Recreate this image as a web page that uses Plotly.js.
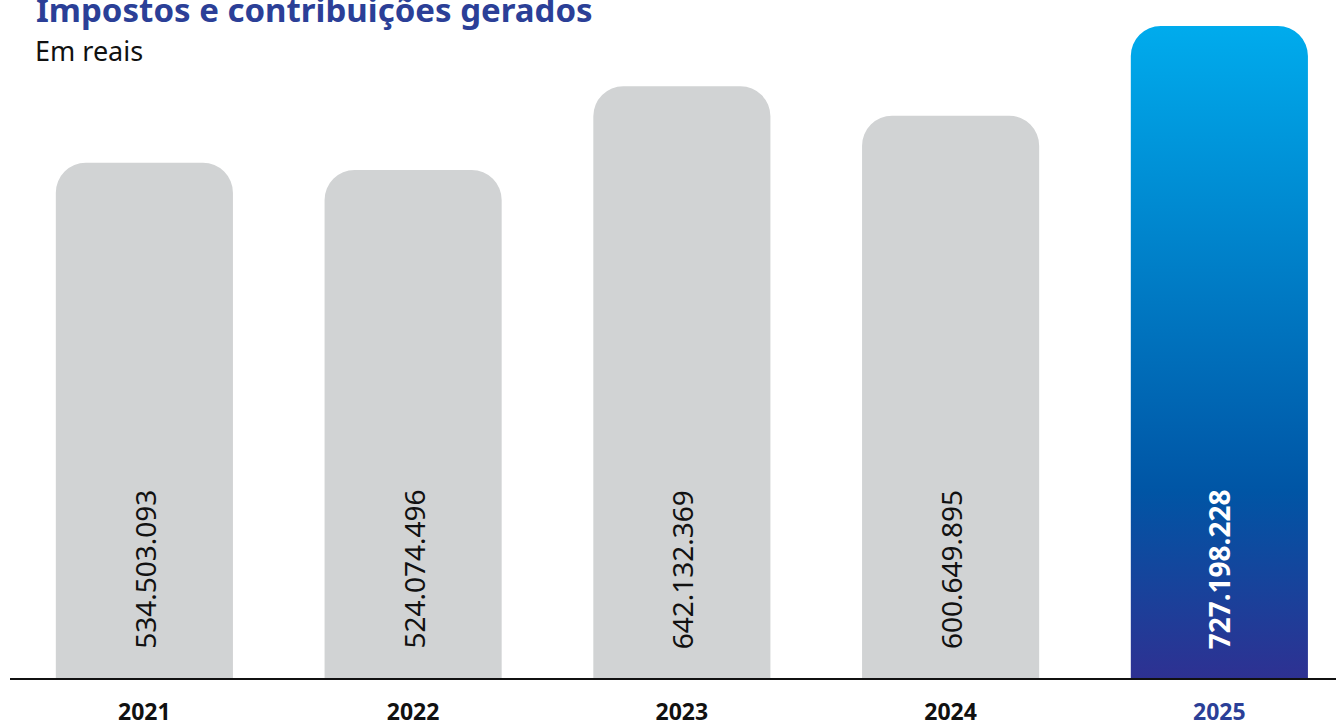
<!DOCTYPE html>
<html>
<head>
<meta charset="utf-8">
<script src="https://cdn.plot.ly/plotly-3.0.1.min.js"></script>
<style>
  html, body { margin: 0; padding: 0; background: #ffffff; }
  #chart { width: 1336px; height: 726px; }
</style>
</head>
<body>
<div id="chart"></div>
<script>
// ---- data ----
const years = ['2021', '2022', '2023', '2024', '2025'];
const values = [534503093, 524074496, 642132369, 600649895, 727198228];
const valueLabels = ['534.503.093', '524.074.496', '642.132.369', '600.649.895', '727.198.228'];
const titleText = 'Impostos e contribuições gerados';
const subtitleText = 'Em reais';

// ---- style ----
const GREY = '#D1D3D4';
const DARKBLUE = '#2B3F97';
const FONT = 'Noto Sans, Lato, sans-serif';
const highlightIndex = years.length - 1;
const axisFloor = -191.7e6;   // visual floor of the value axis
const axisTop = 763.7e6;
const hiddenBase = axisFloor - 60e6; // bar feet sit below the axis line (clipped)

const barColors = years.map((y, i) => i === highlightIndex ? '#0055A5' : GREY);
const tickText = years.map((y, i) => i === highlightIndex
  ? '<span style="color:' + DARKBLUE + '">' + y + '</span>' : y);

const labelAnnotations = years.map((y, i) => ({
  x: i, y: 0, xref: 'x', yref: 'paper',
  text: i === highlightIndex ? '<b>' + valueLabels[i] + '</b>' : valueLabels[i],
  textangle: -90, showarrow: false,
  xanchor: 'center', yanchor: 'bottom', yshift: 27,
  font: { family: FONT, size: 28, color: i === highlightIndex ? '#ffffff' : '#111111' }
}));

const trace = {
  type: 'bar',
  x: years,
  y: values.map(v => v - hiddenBase),
  base: hiddenBase,
  marker: { color: barColors, cornerradius: 30, line: { width: 0 } },
  hoverinfo: 'skip'
};

const layout = {
  width: 1336, height: 726,
  margin: { l: 10, r: 0, t: 0, b: 48 },
  paper_bgcolor: '#ffffff', plot_bgcolor: '#ffffff',
  showlegend: false,
  bargap: 0.341,
  font: { family: FONT },
  xaxis: {
    type: 'category',
    range: [-0.5, 4.434],
    tickvals: years, ticktext: tickText,
    showline: true, linecolor: '#111111', linewidth: 1.5,
    showgrid: false, zeroline: false, ticks: '',
    ticklabelstandoff: 13,
    tickfont: { family: FONT, size: 23, color: '#111111', weight: 'bold' }
  },
  yaxis: {
    range: [axisFloor, axisTop],
    visible: false, showgrid: false, zeroline: false
  },
  annotations: [
    { xref: 'paper', yref: 'paper', x: 0, y: 1, xshift: 24, yshift: 15,
      xanchor: 'left', yanchor: 'top', showarrow: false,
      text: '<b>' + titleText + '</b>',
      font: { family: FONT, size: 33, color: DARKBLUE } },
    { xref: 'paper', yref: 'paper', x: 0, y: 1, xshift: 23, yshift: -30,
      xanchor: 'left', yanchor: 'top', showarrow: false,
      text: subtitleText,
      font: { family: FONT, size: 27, color: '#111111' } }
  ].concat(labelAnnotations)
};

Plotly.newPlot('chart', [trace], layout, { displayModeBar: false, staticPlot: true }).then(() => {
  const svg = document.querySelector('#chart .main-svg');
  let defs = svg.querySelector('defs');
  if (!defs) { defs = document.createElementNS('http://www.w3.org/2000/svg', 'defs'); svg.insertBefore(defs, svg.firstChild); }
  const ns = 'http://www.w3.org/2000/svg';
  const grad = document.createElementNS(ns, 'linearGradient');
  grad.setAttribute('id', 'hlGrad');
  grad.setAttribute('gradientUnits', 'userSpaceOnUse');
  grad.setAttribute('x1', '0'); grad.setAttribute('y1', '12');
  grad.setAttribute('x2', '0'); grad.setAttribute('y2', '678');
  [['0', '#00AEEF'], ['0.72', '#0055A5'], ['1', '#2E3192']].forEach(([o, c]) => {
    const s = document.createElementNS(ns, 'stop');
    s.setAttribute('offset', o); s.setAttribute('stop-color', c);
    grad.appendChild(s);
  });
  defs.appendChild(grad);
  const paths = document.querySelectorAll('#chart .bars .point path');
  if (paths[highlightIndex]) paths[highlightIndex].style.fill = 'url(#hlGrad)';
});
</script>
</body>
</html>
